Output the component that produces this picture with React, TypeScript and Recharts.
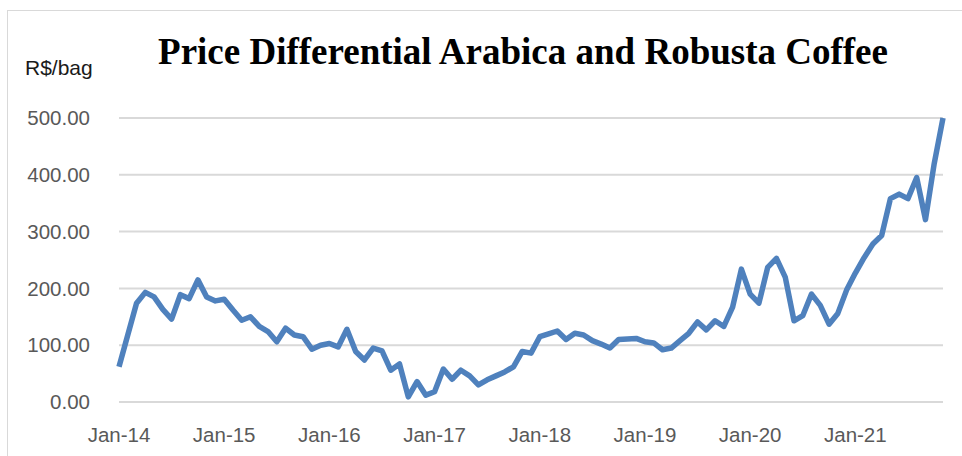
import { LineChart, Line, XAxis, YAxis, CartesianGrid } from "recharts";

const MONTHS = ["Jan", "Feb", "Mar", "Apr", "May", "Jun", "Jul", "Aug", "Sep", "Oct", "Nov", "Dec"];
const YEARS = ["14", "15", "16", "17", "18", "19", "20", "21"];

// R$/bag, monthly, Jan-14 .. Nov-21
const PRICE_DIFF = [
  62, 118, 174, 193, 185, 163, 146, 189, 182, 215, 185, 178,
  181, 162, 144, 150, 133, 124, 106, 130, 118, 115, 93, 100,
  103, 97, 128, 89, 74, 95, 90, 56, 67, 9, 36, 12,
  18, 58, 40, 56, 46, 30, 39, 46, 53, 62, 89, 86,
  115, 120, 125, 110, 121, 118, 108, 102, 95, 110, 111, 112,
  106, 104, 92, 95, 108, 121, 141, 127, 143, 133, 167, 234,
  190, 174, 237, 253, 220, 143, 152, 190, 170, 137, 156, 197,
  227, 254, 278, 293, 358, 366, 358, 395, 321, 420, 500,
];

const Y_TICKS = [0, 100, 200, 300, 400, 500];

const categories = YEARS.flatMap((y) => MONTHS.map((m) => `${m}-${y}`)).slice(0, PRICE_DIFF.length);
const data = categories.map((month, i) => ({ month, value: PRICE_DIFF[i] }));

const tickStyle = { fill: "#595959", fontSize: 20.5, fontFamily: "'Liberation Sans', Arial, sans-serif" };

export default function App() {
  return (
    <div style={{ position: "absolute", left: 0, top: 0, width: 962, height: 456, overflow: "hidden", background: "#fff" }}>
      <div
        style={{
          position: "absolute",
          left: 7,
          top: 10,
          width: 990,
          height: 500,
          borderLeft: "1.5px solid #d9d9d9",
          borderTop: "1.5px solid #d9d9d9",
        }}
      />
      <LineChart
        width={962}
        height={456}
        data={data}
        margin={{ top: 118, right: 19, bottom: 14, left: 0 }}
        style={{ position: "absolute", left: 0, top: 0 }}
      >
        <CartesianGrid vertical={false} stroke="#d9d9d9" strokeWidth={2} />
        <XAxis
          dataKey="month"
          interval={11}
          axisLine={false}
          tickLine={false}
          tickSize={0}
          tickMargin={25}
          height={40}
          tick={tickStyle}
        />
        <YAxis
          domain={[0, 500]}
          ticks={Y_TICKS}
          width={119}
          axisLine={false}
          tickLine={false}
          tickSize={0}
          tickMargin={29}
          tickFormatter={(v: number) => v.toFixed(2)}
          tick={tickStyle}
        />
        <Line
          type="linear"
          dataKey="value"
          stroke="#4f81bd"
          strokeWidth={5.5}
          strokeLinejoin="round"
          dot={false}
          isAnimationActive={false}
        />
      </LineChart>
      <svg width={962} height={456} style={{ position: "absolute", left: 0, top: 0, pointerEvents: "none" }}>
        <text
          x={523}
          y={64}
          textAnchor="middle"
          style={{ fontFamily: "'Liberation Serif', 'Times New Roman', serif", fontWeight: "bold", fontSize: 37, fill: "#000" }}
        >
          Price Differential Arabica and Robusta Coffee
        </text>
        <text
          x={25}
          y={75}
          style={{ fontFamily: "'Liberation Sans', Arial, sans-serif", fontSize: 21, fill: "#1a1a1a" }}
        >
          R$/bag
        </text>
      </svg>
    </div>
  );
}
